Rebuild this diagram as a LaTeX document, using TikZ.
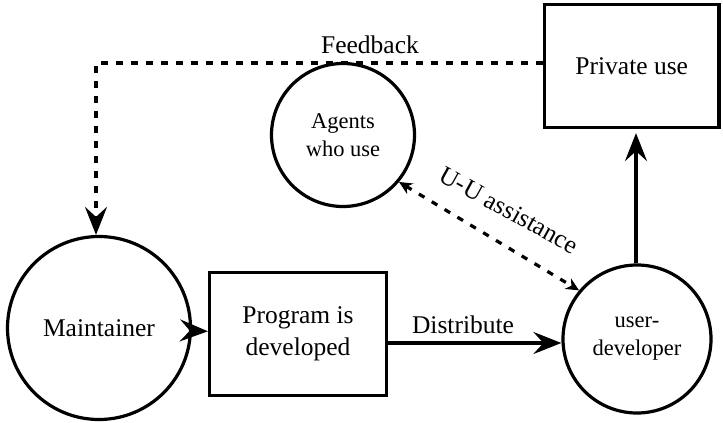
\documentclass[tikz,border=0pt]{standalone}
\usepackage{fontspec}
\setmainfont{Liberation Serif}
\newfontfamily\diagserif{Liberation Serif}
\usetikzlibrary{arrows.meta}
\begin{document}
\begin{tikzpicture}[x=1pt,y=-1pt,
  lw/.style={line width=3.2pt},
  roundnode/.style={draw,lw,circle,inner sep=0pt,align=center},
  boxnode/.style={draw,lw,rectangle,inner sep=0pt,align=center},
  bigfont/.style={font=\diagserif\fontsize{25.5}{32}\selectfont},
  smallfont/.style={font=\diagserif\fontsize{22.5}{28}\selectfont},
  bigtip/.style={-{Stealth[length=28pt,width=22pt,inset=10pt]}},
  dotline/.style={lw,dash pattern=on 6.5pt off 8.5pt},
  smalltips/.style={{Stealth[length=13pt,width=12pt,inset=4pt]}-{Stealth[length=13pt,width=12pt,inset=4pt]}}
]
\useasboundingbox (0,0) rectangle (723,423);
\node[roundnode,minimum size=183pt,bigfont] (maint) at (99,328) {Maintainer};
\node[boxnode,minimum width=177pt,minimum height=123pt,bigfont] (prog) at (298,334) {Program is\\developed};
\node[roundnode,minimum size=148pt,smallfont] (userdev) at (637,339) {user-\\developer};
\node[boxnode,minimum width=174.5pt,minimum height=123pt,bigfont] (private) at (631.75,66) {Private use};
\node[roundnode,minimum size=143pt,smallfont] (agents) at (343,135) {Agents\\who use};

\node[bigfont] (fblbl) at (370,45) {Feedback};
\node[bigfont] (distlbl) at (463,325) {Distribute};
\node[bigfont,rotate=-29] (uulbl) at (509,210) {U-U assistance};

\draw[lw,bigtip] (maint) -- (prog);
\draw[lw,bigtip] (prog.east |- 0,343) -- (userdev.west |- 0,343);
\draw[lw,bigtip,shorten >=4pt] (userdev.north -| 636,0) -- (private.south -| 636,0);
\draw[dotline,bigtip] (private.west |- 0,63) -- (96,63) -- (maint.north -| 96,0);
\draw[dotline,smalltips] (agents.-40) -- (userdev.140);
\end{tikzpicture}
\end{document}
